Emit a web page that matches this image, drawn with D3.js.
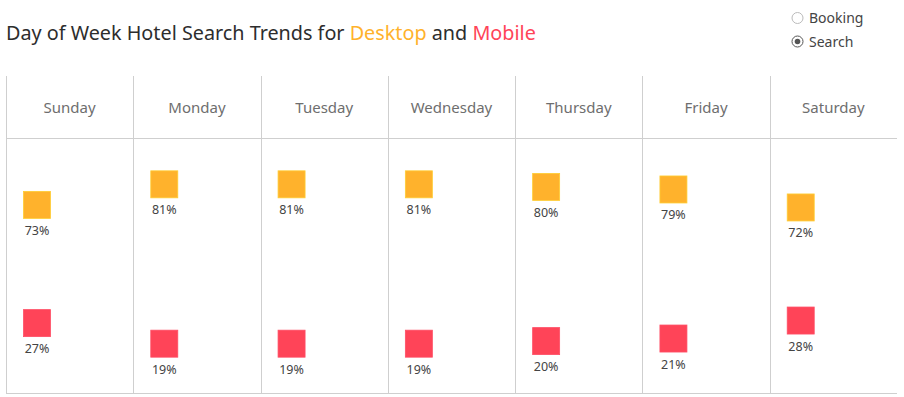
<!DOCTYPE html>
<html>
<head>
<meta charset="utf-8">
<script src="https://cdn.jsdelivr.net/npm/d3@7"></script>
<style>
  body { margin: 0; background: #fff; }
  svg { display: block; font-family: "Noto Sans", "Open Sans", sans-serif; }
</style>
</head>
<body>
<svg id="chart" width="904" height="397"></svg>
<script>
const days = ['Sunday', 'Monday', 'Tuesday', 'Wednesday', 'Thursday', 'Friday', 'Saturday'];
const desktop = [73, 81, 81, 81, 80, 79, 72];
const mobile = [27, 19, 19, 19, 20, 21, 28];
const options = ['Booking', 'Search'];
const selected = 'Search';

const COLORS = { desktop: '#ffb22c', mobile: '#ff4458' };
const grid = { left: 6, right: 897, top: 76, header: 138, bottom: 393 };
const SQ = 27;

const svg = d3.select('#chart');

// title
const title = svg.append('text')
  .attr('x', 6).attr('y', 40)
  .attr('font-size', 19.8)
  .attr('fill', '#2d2d2d');
title.append('tspan').text('Day of Week Hotel Search Trends for ');
title.append('tspan').attr('fill', COLORS.desktop).text('Desktop');
title.append('tspan').text(' and ');
title.append('tspan').attr('fill', COLORS.mobile).text('Mobile');

// radio buttons
const radio = svg.append('g').selectAll('g')
  .data(options)
  .join('g')
  .attr('transform', (d, i) => `translate(797.5, ${18 + i * 23.5})`);
radio.append('circle')
  .attr('r', 5.5)
  .attr('fill', '#fff')
  .attr('stroke', d => d === selected ? '#555' : '#bbb')
  .attr('stroke-width', 1);
radio.filter(d => d === selected).append('circle')
  .attr('r', 2.8)
  .attr('fill', '#555');
radio.append('text')
  .attr('x', 11.5).attr('y', 5)
  .attr('font-size', 14)
  .attr('fill', '#444')
  .text(d => d);

// scales
const x = d3.scaleBand().domain(days).range([grid.left, grid.right]);
const y = d3.scaleLinear().domain([0, 100]).range([392.5, 135.5]);

// grid lines
const lines = svg.append('g').attr('stroke', '#cfcfcf').attr('stroke-width', 1);
lines.selectAll('line.v')
  .data(days)
  .join('line')
  .attr('class', 'v')
  .attr('x1', d => Math.round(x(d)) + 0.5)
  .attr('x2', d => Math.round(x(d)) + 0.5)
  .attr('y1', grid.top)
  .attr('y2', grid.bottom);
lines.append('line')
  .attr('x1', grid.left).attr('x2', grid.right)
  .attr('y1', grid.header + 0.5).attr('y2', grid.header + 0.5);
lines.append('line')
  .attr('x1', grid.left).attr('x2', grid.right)
  .attr('y1', grid.bottom + 0.5).attr('y2', grid.bottom + 0.5);

// day headers
svg.append('g').selectAll('text')
  .data(days)
  .join('text')
  .attr('x', d => x(d) + x.bandwidth() / 2)
  .attr('y', 113)
  .attr('text-anchor', 'middle')
  .attr('font-size', 15)
  .attr('fill', '#6e6e6e')
  .text(d => d);

// marks
const series = [
  { key: 'desktop', values: desktop },
  { key: 'mobile', values: mobile },
];
const points = series.flatMap(s => s.values.map((v, i) => ({ key: s.key, day: days[i], value: v })));

const cx = d => x(d.day) + 17.5 + SQ / 2;

const marks = svg.append('g').selectAll('g')
  .data(points)
  .join('g');
marks.append('rect')
  .attr('x', d => cx(d) - SQ / 2)
  .attr('y', d => y(d.value) - SQ / 2)
  .attr('width', SQ)
  .attr('height', SQ)
  .attr('fill', d => COLORS[d.key])
  .attr('stroke', d => d3.color(COLORS[d.key]).brighter(0.4))
  .attr('stroke-width', 0.8);
marks.append('text')
  .attr('x', d => cx(d))
  .attr('y', d => y(d.value) + SQ / 2 + 16.5)
  .attr('text-anchor', 'middle')
  .attr('font-size', 12.5)
  .attr('fill', '#444')
  .text(d => d.value + '%');
</script>
</body>
</html>
